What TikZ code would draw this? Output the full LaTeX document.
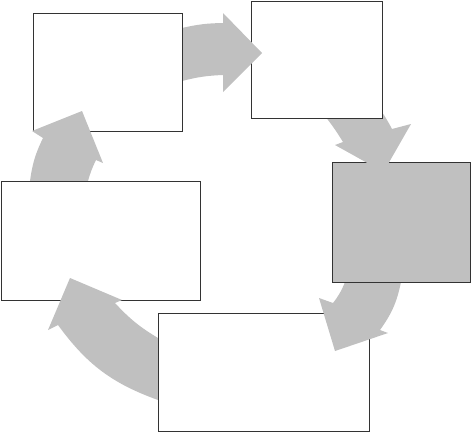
\documentclass[tikz,border=0pt]{standalone}
\definecolor{arrowgray}{HTML}{C0C0C0}
\tikzset{
  box/.style={draw=black!80, line width=0.9pt, fill=white, inner sep=0pt, anchor=north west},
  grayfill/.style={fill=arrowgray},
  cyc/.style={fill=arrowgray, draw=none},
  edgeline/.style={draw=black!80, line width=0.9pt}
}
\begin{document}
\begin{tikzpicture}[x=1pt,y=-1pt]
\useasboundingbox (0,0) rectangle (471,432);
% boxes (except the one that hides the tail of arrow 2)
\node[box, minimum width=149pt, minimum height=118pt] (b1) at (33,13) {};
\node[box, grayfill, minimum width=138pt, minimum height=120pt] (b3) at (332,162) {};
\node[box, minimum width=211pt, minimum height=118pt] (b4) at (158,313) {};
\node[box, minimum width=199pt, minimum height=119pt] (b5) at (1,181) {};
% arrow 2 (box 2 -> box 3), tail hidden under box 2
\path[cyc] (379,108) to[bend left=4] (392,129) -- (411,124) -- (383.5,172) -- (335,145) -- (343,142) to[bend right=4] (320,110) -- cycle;
\node[box, minimum width=131pt, minimum height=117pt] (b2) at (251,1) {};
% arrow 1 (box 1 -> box 2)
\path[cyc] (182,28) to[bend left=6] (223,23) -- (223,13) -- (262,53) -- (223,92) -- (223,75) to[bend right=6] (182,81) -- cycle;
% arrow 3 (box 3 -> box 4)
\path[cyc] (401,282) to[bend left=12] (380,330) -- (388,333) -- (335,351) -- (319,298) -- (333,303) to[bend right=8] (345,282) -- cycle;
% arrow 4 (box 4 -> box 5)
\path[cyc] (158,400) to[bend left=17] (58,325) -- (48,330) -- (70,278) -- (122,300) -- (115,303) to[bend right=8] (158,338) -- cycle;
% arrow 5 (box 5 -> box 1)
\path[cyc] (30,181) to[bend left=9] (43,138) -- (32,131) -- (82,111) -- (103,163) -- (96,160) to[bend right=5] (88,181) -- cycle;
% edges at the arrow tails stay visible
\draw[edgeline] (b1.north east) -- (b1.south east);
\draw[edgeline] (b3.south west) -- (b3.south east);
\draw[edgeline] (b4.north west) -- (b4.south west);
\draw[edgeline] (b5.north west) -- (b5.north east);
\end{tikzpicture}
\end{document}
